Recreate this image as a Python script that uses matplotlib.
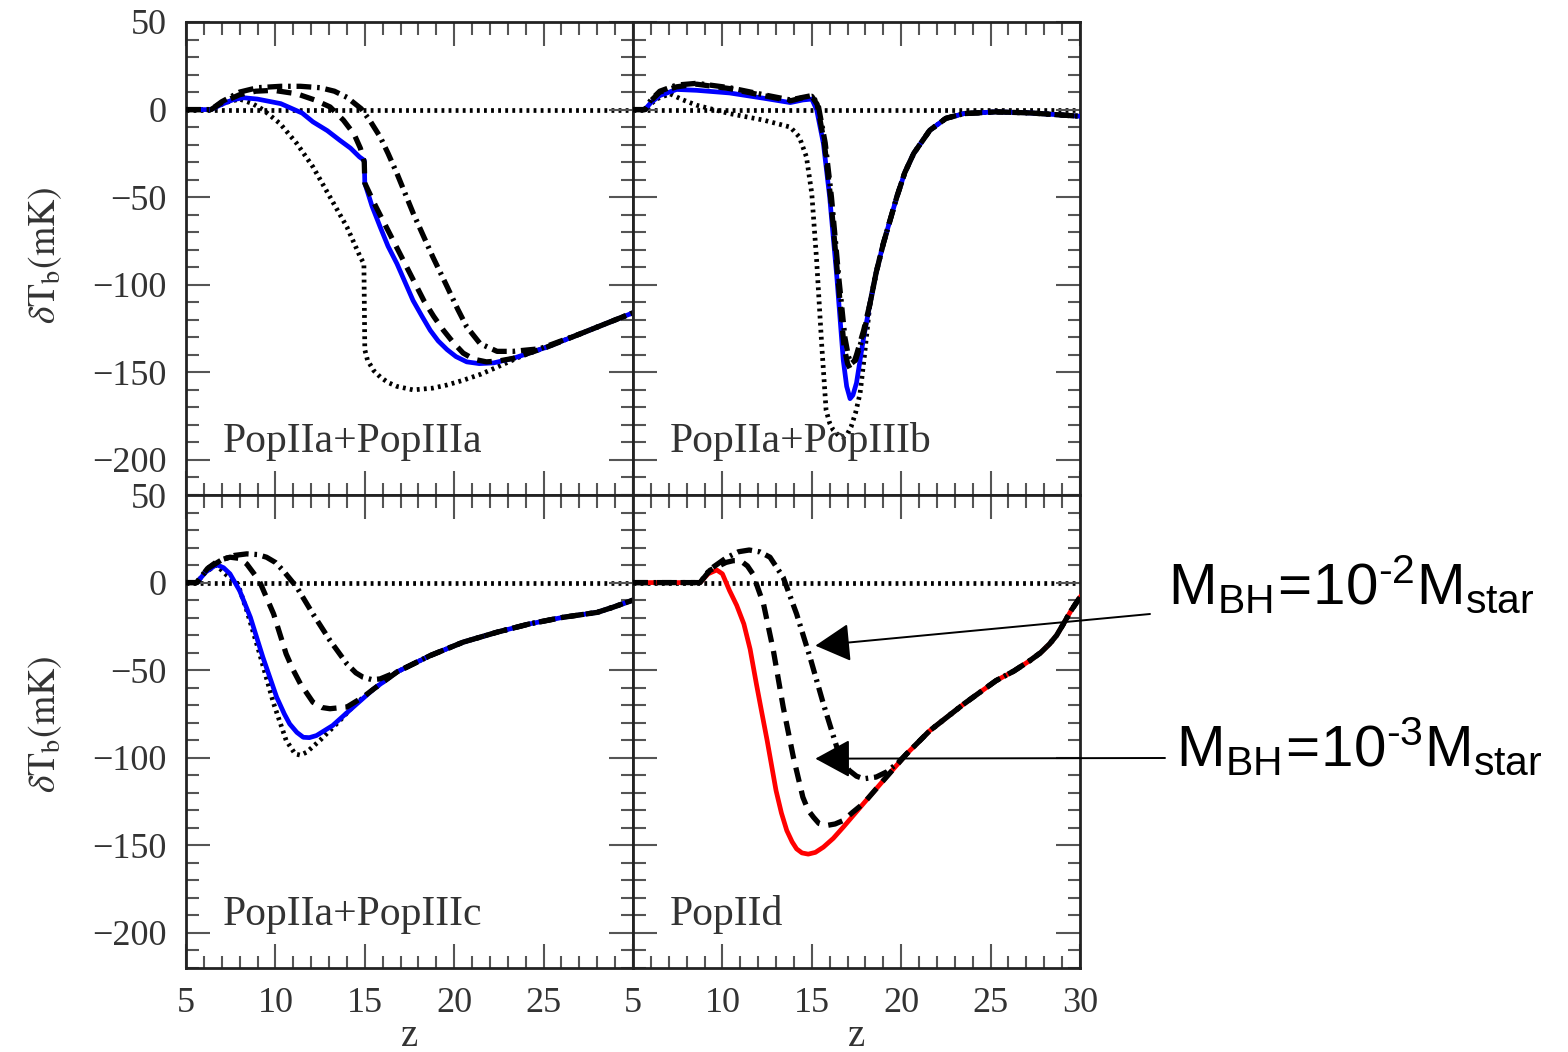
import numpy as np
import matplotlib
matplotlib.use('Agg')
from matplotlib import pyplot as plt

plt.rcParams['font.family'] = ['Liberation Serif', 'DejaVu Serif']
plt.rcParams['mathtext.fontset'] = 'custom'
plt.rcParams['mathtext.rm'] = 'Liberation Sans'
plt.rcParams['mathtext.it'] = 'Liberation Sans:italic'

# ---- data: (z, dTb in mK) ----
# PopIIa+PopIIIa
a_solid = [(5, 0), (6.4, 0), (7.0, 3), (7.6, 5.5), (8.2, 6.8), (9.0, 6), (10.3, 3.4), (11.5, -2), (12.1, -7),
           (12.9, -12), (13.6, -17.5), (14.2, -22), (14.7, -27), (14.97, -29), (15.0, -42), (15.4, -55),
           (15.86, -67), (16.3, -78), (16.8, -88), (17.7, -109), (18.2, -118), (18.66, -126), (19.1, -132),
           (19.6, -137), (20.1, -141), (20.7, -144), (21.4, -145), (22.2, -144.6), (23.3, -142), (25.2, -135.5),
           (27.05, -128), (30, -116)]
a_dash = [(5, 0), (6.4, 0), (7.0, 4), (8.0, 8.5), (8.9, 10.5), (9.9, 11), (11.2, 9), (12.2, 5.5), (13.06, 1.5),
          (13.8, -6), (14.4, -14), (14.75, -22), (14.97, -30), (15.0, -42), (15.6, -55), (16.2, -67),
          (16.8, -79), (17.35, -90), (18.3, -109), (18.85, -118), (19.4, -126), (19.95, -133), (20.5, -139),
          (21.1, -142.5), (21.8, -144), (22.5, -143.5), (23.3, -142), (25.2, -135.5), (27.05, -128), (30, -116)]
a_dashdot = [(5, 0), (6.4, 0), (7.0, 4.5), (8.0, 10), (9.0, 12.5), (10.3, 13.3), (11.4, 13.3), (12.5, 12.5),
             (13.3, 10.5), (14.0, 7), (14.8, 0.5), (15.3, -6.5), (15.86, -15.6), (16.3, -25), (16.8, -36.5),
             (17.7, -59), (18.8, -84), (19.6, -101), (20.2, -114), (20.7, -124), (21.45, -133.6), (22.4, -138),
             (23.3, -138), (24.8, -136.5), (27.05, -128), (30, -116)]
a_dot = [(5, 0), (6.4, 0), (7.2, 4), (8.0, 6), (8.7, 3.5), (9.3, 0), (10.26, -8), (11.2, -19.4), (12.1, -32.7),
         (13.06, -50), (14.0, -67), (14.74, -84), (14.95, -88), (15.0, -137), (15.15, -143), (15.5, -149),
         (15.86, -152.6), (16.3, -155.8), (16.8, -158), (17.7, -160), (18.8, -159), (19.6, -157.2),
         (20.5, -154.5), (21.5, -151), (22.4, -147), (23.7, -141), (25.2, -135.5), (27.05, -128), (30, -116)]

# PopIIa+PopIIIb
b_solid = [(5, 0), (5.67, 0), (6.0, 4), (6.5, 8), (7.44, 11.5), (8.56, 11), (10.4, 9.5), (12.3, 6.5), (13.8, 4),
           (14.5, 5.5), (15.0, 6), (15.27, 0), (15.65, -19.4), (16.0, -50), (16.4, -95.5), (16.76, -143),
           (16.95, -158), (17.14, -165), (17.3, -163), (17.5, -156), (17.9, -130), (18.25, -111), (18.6, -93),
           (19.0, -76.5), (19.75, -50), (20.2, -36), (20.7, -25), (21.6, -11.8), (22.5, -5), (23.5, -2.3),
           (25.3, -1.3), (27.2, -1.9), (30, -3.8)]
b_dash = [(5, 0), (5.67, 0), (6.0, 5), (6.5, 10), (7.44, 13), (8.56, 14.5), (10.4, 12), (12.3, 8), (13.8, 5),
          (14.5, 6.8), (15.0, 7.6), (15.3, 3), (15.7, -19), (16.05, -50), (16.45, -95), (16.8, -135),
          (17.0, -145), (17.15, -148), (17.3, -146), (17.5, -140), (17.9, -126), (18.25, -111), (18.6, -93),
          (19.0, -76.5), (19.75, -50), (20.2, -36), (20.7, -25), (21.6, -11.8), (22.5, -5), (23.5, -2.3),
          (25.3, -1.3), (27.2, -1.9), (30, -3.8)]
b_dashdot = [(5, 0), (5.67, 0), (6.0, 5.5), (6.5, 10.5), (7.44, 14), (8.56, 15), (10.4, 12.5), (12.3, 8.5),
             (13.8, 5.5), (14.5, 7), (15.0, 8), (15.35, 3), (15.75, -19), (16.1, -50), (16.5, -95),
             (16.85, -130), (17.05, -141), (17.2, -145), (17.45, -143), (17.9, -128), (18.25, -111), (18.6, -93),
             (19.0, -76.5), (19.75, -50), (20.2, -36), (20.7, -25), (21.6, -11.8), (22.5, -5), (23.5, -2.3),
             (25.3, -1.3), (27.2, -1.9), (30, -3.8)]
b_dot = [(5, 0), (5.67, 0), (6.3, 6), (7.07, 9), (7.8, 5.5), (8.56, 2.5), (10.4, -2.3), (12.3, -6), (13.8, -10),
         (14.3, -15.6), (14.7, -27), (15.0, -48), (15.27, -86), (15.55, -133.6), (15.8, -171.6), (16.0, -179),
         (16.2, -183), (16.5, -186), (16.76, -187), (17.0, -185), (17.2, -181), (17.45, -173), (17.7, -162),
         (17.95, -140), (18.25, -111), (18.6, -93), (19.0, -76.5), (19.75, -50), (20.2, -36), (20.7, -25),
         (21.6, -11.8), (22.5, -5), (23.5, -2.3), (25.3, -1.3), (27.2, -1.9), (30, -3.8)]

# PopIIa+PopIIIc
c_solid = [(5, 0), (5.6, 0), (6.1, 6), (6.7, 10.3), (7.1, 8.5), (7.46, 5), (8.0, -4.6), (8.6, -19.8), (9.3, -42.6),
           (10.07, -65.4), (10.5, -75), (10.8, -80.7), (11.2, -85.5), (11.56, -88.3), (11.9, -88.5),
           (12.3, -87.3), (13.2, -81.6), (14.36, -71), (15.5, -60.7), (16.8, -51), (18.65, -41.7), (20.5, -34),
           (22.4, -28.3), (24.2, -23.6), (26.1, -19.8), (28.0, -17), (28.9, -14), (30, -10)]
c_dash = [(5, 0), (5.6, 0), (6.2, 8), (6.8, 12.5), (7.46, 14.5), (8.0, 13.8), (8.4, 10.6), (9.1, 1),
          (9.9, -17.9), (10.6, -40.7), (11.0, -50), (11.4, -57.8), (12.1, -68.3), (12.6, -71.3), (13.05, -72),
          (14.0, -71), (14.9, -65.4), (15.5, -60.7), (16.8, -51), (18.65, -41.7), (20.5, -34), (22.4, -28.3),
          (24.2, -23.6), (26.1, -19.8), (28.0, -17), (28.9, -14), (30, -10)]
c_dashdot = [(5, 0), (5.6, 0), (6.2, 8), (7.0, 13), (7.7, 15.5), (8.4, 16.4), (9.0, 16), (9.5, 14.5),
             (10.0, 11.5), (10.44, 6.8), (11.2, -2.7), (12.1, -17.9), (13.05, -33), (14.0, -46.4),
             (14.5, -51.5), (14.9, -54), (15.4, -55.4), (15.85, -55), (16.8, -51), (18.65, -41.7), (20.5, -34),
             (22.4, -28.3), (24.2, -23.6), (26.1, -19.8), (28.0, -17), (28.9, -14), (30, -10)]
c_dot = [(5, 0), (5.6, 0), (6.1, 6), (6.7, 10), (7.3, 4), (7.9, -0.8), (8.4, -16), (9.1, -40), (9.9, -69),
         (10.6, -90), (11.1, -97.8), (11.4, -98.5), (11.75, -96.8), (12.5, -90), (13.6, -78.8), (14.5, -69),
         (15.5, -60.7), (16.8, -51), (18.65, -41.7), (20.5, -34), (22.4, -28.3), (24.2, -23.6), (26.1, -19.8),
         (28.0, -17), (28.9, -14), (30, -10)]

# PopIId
d_solid = [(5, 0), (8.75, 0), (9.2, 5), (9.68, 7.2), (10.0, 5), (10.4, -4.6), (10.8, -13), (11.2, -23.6),
           (11.55, -38), (11.9, -57.8), (12.2, -74), (12.5, -90), (13.0, -118.7), (13.3, -131.5), (13.6, -141.5),
           (13.9, -148), (14.15, -152), (14.45, -154.3), (14.8, -155), (15.2, -154), (15.65, -151),
           (16.2, -146), (16.76, -139.6), (17.9, -126), (19.0, -113), (20.3, -97.8), (21.6, -84.5),
           (23.5, -69.3), (25.3, -56), (26.3, -50.5), (27.2, -44.5), (27.8, -40), (28.3, -35), (28.7, -30),
           (29.07, -23.6), (29.5, -16), (30, -8.4)]
d_dash = [(5, 0), (8.75, 0), (9.3, 7), (10.2, 11.5), (10.6, 12.5), (11.0, 12.6), (11.4, 9.5), (11.7, 5),
          (12.3, -12.2), (12.85, -38.8), (13.4, -71), (13.97, -99.7), (14.5, -122.5), (14.8, -130),
          (15.1, -134), (15.4, -137.5), (15.8, -138.7), (16.3, -137.8), (16.76, -135.8), (17.3, -131),
          (17.9, -126), (19.0, -113), (20.3, -97.8), (21.6, -84.5), (23.5, -69.3), (25.3, -56), (26.3, -50.5),
          (27.2, -44.5), (27.8, -40), (28.3, -35), (28.7, -30), (29.07, -23.6), (29.5, -16), (30, -8.4)]
d_dashdot = [(5, 0), (8.75, 0), (9.3, 7.5), (10.2, 14), (10.9, 17.6), (11.5, 18.6), (12.1, 17.5), (12.66, 14.5),
             (13.4, 3), (14.15, -17.9), (14.9, -42.6), (15.65, -69.3), (16.4, -94), (16.75, -102.5),
             (17.1, -107.3), (17.5, -110.5), (17.9, -112), (18.6, -111), (19.2, -108), (19.8, -103),
             (20.3, -97.8), (21.6, -84.5), (23.5, -69.3), (25.3, -56), (26.3, -50.5), (27.2, -44.5), (27.8, -40),
             (28.3, -35), (28.7, -30), (29.07, -23.6), (29.5, -16), (30, -8.4)]

panel_names = ['PopIIa+PopIIIa', 'PopIIa+PopIIIb', 'PopIIa+PopIIIc', 'PopIId']
solid_colors = ['blue', 'blue', 'blue', 'red']
x_ticks = [5, 10, 15, 20, 25, 30]
y_ticks = [-200, -150, -100, -50, 0, 50]
bh_labels = ['$\\mathrm{M_{BH}\\!=\\!10^{\u20102}M_{star}}$',
             '$\\mathrm{M_{BH}\\!=\\!10^{\u20103}M_{star}}$']

panels = [(a_solid, a_dash, a_dashdot, a_dot),
          (b_solid, b_dash, b_dashdot, b_dot),
          (c_solid, c_dash, c_dashdot, c_dot),
          (d_solid, d_dash, d_dashdot, None)]

fig = plt.figure(figsize=(15.68, 10.52), dpi=100)
L, W = 186 / 1568, 447 / 1568
B, H = 84 / 1052, 473 / 1052
boxes = [(L, B + H), (L + W, B + H), (L, B), (L + W, B)]

tick_grey = '#555555'
dotted = (0, (0.6, 0.9))
axes = []
for i, (sol, dsh, dd, dt) in enumerate(panels):
    ax = fig.add_axes([boxes[i][0], boxes[i][1], W, H])
    axes.append(ax)
    ax.axhline(0, color='black', lw=3.4, ls=dotted, zorder=1)
    if dt is not None:
        z, v = np.array(dt).T
        ax.plot(z, v, color='black', lw=3.4, ls=dotted, zorder=2)
    z, v = np.array(sol).T
    ax.plot(z, v, color=solid_colors[i], lw=3.4, solid_joinstyle='round', zorder=3)
    z, v = np.array(dsh).T
    ax.plot(z, v, color='black', lw=3.8, ls=(0, (2.8, 1.7)), zorder=4)
    z, v = np.array(dd).T
    ax.plot(z, v, color='black', lw=3.8, ls=(0, (2.8, 1.1, 0.5, 1.1)), zorder=5)

    ax.set_xlim(5, 30)
    ax.set_ylim(-220, 50)
    ax.set_xticks(x_ticks)
    ax.set_xticks(np.arange(5, 31, 1), minor=True)
    ax.set_yticks(y_ticks)
    ax.set_yticks(np.arange(-220, 51, 10), minor=True)
    ax.tick_params(which='both', direction='in', top=True, right=True, color=tick_grey,
                   labelcolor='#333333', labelsize=26, width=1.5)
    ax.tick_params(which='major', length=17, pad=14)
    ax.tick_params(which='minor', length=9)
    for s in ax.spines.values():
        s.set_linewidth(2)
        s.set_color('#222222')
    ax.text(0.082, 0.09, panel_names[i], transform=ax.transAxes, fontsize=30,
            color='#333333', va='baseline', ha='left')

    if i % 2 == 1:
        ax.set_yticklabels([])
    else:
        ax.set_yticklabels([str(t).replace('-', '\u2212') for t in y_ticks])
    if i < 2:
        ax.set_xticklabels([])
    elif i == 2:
        ax.set_xticklabels([str(t) for t in x_ticks[:-1]] + [''])
    else:
        ax.set_xticklabels([str(t) for t in x_ticks])

# axis labels
for yc in [0.7576, 0.311]:
    fig.text(0.029, yc, r'$\delta\mathrm{T_b(mK)}$', rotation=90, fontsize=27, color='#333333',
             ha='center', va='center', math_fontfamily='stix')
for xc in [L + W / 2, L + 1.5 * W]:
    fig.text(xc, 1 - 1046 / 1052, 'z', fontsize=28, color='#333333', ha='center', va='baseline')

# annotations with arrows into PopIId panel
ax = axes[3]
arrow = dict(arrowstyle='-|>,head_length=0.55,head_width=0.3', color='black', lw=1.4,
             mutation_scale=40, shrinkA=0, shrinkB=0)
ax.annotate('', xy=(15.2, -36), xycoords='data', xytext=(1150 / 1568, 1 - 614 / 1052),
            textcoords='figure fraction', arrowprops=arrow, annotation_clip=False)
ax.annotate('', xy=(15.2, -100.5), xycoords='data', xytext=(1165 / 1568, 1 - 758 / 1052),
            textcoords='figure fraction', arrowprops=arrow, annotation_clip=False)
fig.text(1168 / 1568, 1 - 604 / 1052, bh_labels[0], fontsize=42,
         ha='left', va='baseline', math_fontfamily='custom')
fig.text(1176 / 1568, 1 - 766 / 1052, bh_labels[1], fontsize=42,
         ha='left', va='baseline', math_fontfamily='custom')

plt.savefig('out.png', dpi=100)
